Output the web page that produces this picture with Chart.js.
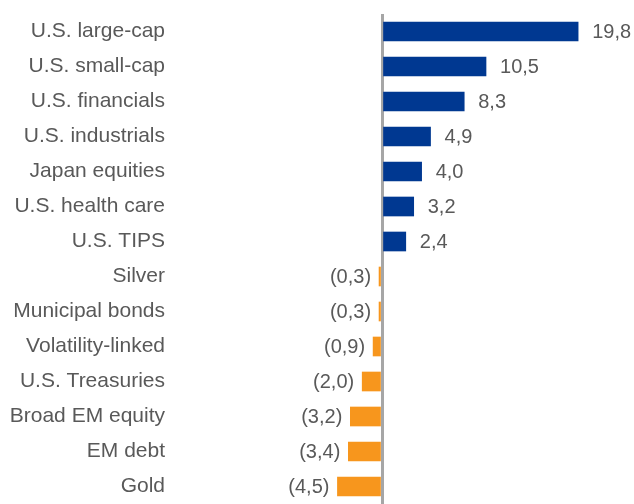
<!DOCTYPE html>
<html>
<head>
<meta charset="utf-8">
<script src="https://cdn.jsdelivr.net/npm/chart.js@4"></script>
<style>
    html, body { margin: 0; padding: 0; background: #fff; }
    #wrap { width: 634px; height: 504px; position: relative; }
</style>
</head>
<body>
<div id="wrap"><canvas id="chart"></canvas></div>
<script>
// Data
const categories = [
    'U.S. large-cap', 'U.S. small-cap', 'U.S. financials', 'U.S. industrials',
    'Japan equities', 'U.S. health care', 'U.S. TIPS', 'Silver', 'Municipal bonds',
    'Volatility-linked', 'U.S. Treasuries', 'Broad EM equity', 'EM debt', 'Gold'
];
const values = [19.8, 10.5, 8.3, 4.9, 4.0, 3.2, 2.4, -0.3, -0.3, -0.9, -2.0, -3.2, -3.4, -4.5];

const posColor = '#003891';
const negColor = '#F7961D';
const textColor = '#595959';
const fontFamily = '"Liberation Sans", Arial, sans-serif';

// format like 19,8 and (0,3)
const fmt = v => {
    const s = Math.abs(v).toFixed(1).replace('.', ',');
    return v < 0 ? '(' + s + ')' : s;
};

// Value labels next to bars
const valueLabels = {
    id: 'valueLabels',
    afterDatasetsDraw(chart) {
        const ctx = chart.ctx;
        const meta = chart.getDatasetMeta(0);
        ctx.save();
        ctx.font = '20px ' + fontFamily;
        ctx.fillStyle = textColor;
        ctx.textBaseline = 'middle';
        meta.data.forEach((bar, i) => {
            const v = values[i];
            if (v >= 0) {
                ctx.textAlign = 'left';
                ctx.fillText(fmt(v), bar.x + 14, bar.y + 1);
            } else {
                ctx.textAlign = 'right';
                ctx.fillText(fmt(v), bar.x - 8, bar.y + 1);
            }
        });
        ctx.restore();
    }
};

new Chart(document.getElementById('chart'), {
    type: 'bar',
    data: {
        labels: categories,
        datasets: [{
            data: values,
            backgroundColor: values.map(v => v >= 0 ? posColor : negColor),
            barThickness: 19,
            borderWidth: 0
        }]
    },
    options: {
        indexAxis: 'y',
        responsive: true,
        maintainAspectRatio: false,
        animation: false,
        layout: { padding: { top: 14, bottom: 0, left: 0, right: 0 } },
        plugins: {
            legend: { display: false },
            tooltip: { enabled: false }
        },
        scales: {
            x: {
                min: -21,
                max: 25.44,
                afterBuildTicks: scale => { scale.ticks = [{ value: 0 }]; },
                afterFit: scale => { scale.height = -3; },
                ticks: { display: false },
                border: { display: false },
                grid: {
                    drawTicks: false,
                    color: ctx => ctx.tick && ctx.tick.value === 0 ? '#A6A6A6' : 'transparent',
                    lineWidth: 3
                }
            },
            y: {
                afterFit: scale => {
                    scale.width = 174;
                    scale.paddingTop = 0;
                    scale.paddingBottom = 0;
                },
                border: { display: false },
                grid: { display: false, drawTicks: false },
                ticks: {
                    padding: 9,
                    color: textColor,
                    font: { family: fontFamily, size: 21 }
                }
            }
        }
    },
    plugins: [valueLabels]
});
</script>
</body>
</html>
